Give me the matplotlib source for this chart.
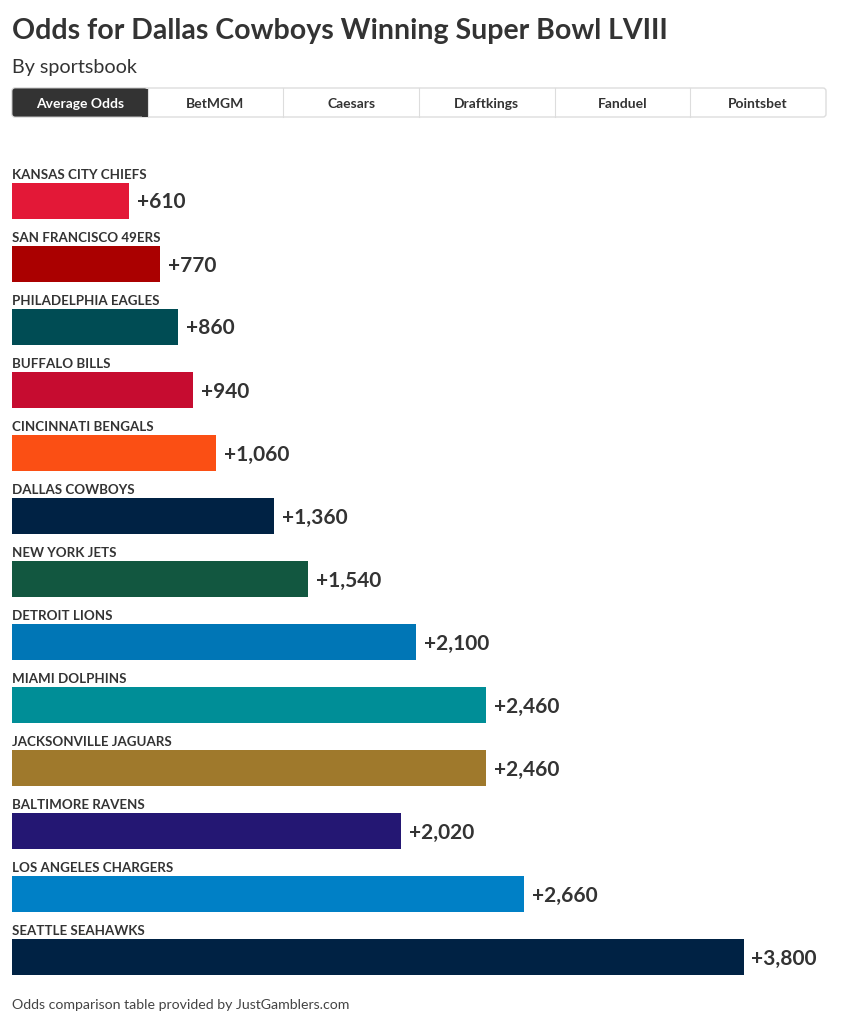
#!/usr/bin/env python3

import matplotlib
matplotlib.use("Agg")
import matplotlib.pyplot as plt
from matplotlib.patches import FancyBboxPatch, Rectangle

teams = [
    "KANSAS CITY CHIEFS", "SAN FRANCISCO 49ERS", "PHILADELPHIA EAGLES", "BUFFALO BILLS",
    "CINCINNATI BENGALS", "DALLAS COWBOYS", "NEW YORK JETS", "DETROIT LIONS",
    "MIAMI DOLPHINS", "JACKSONVILLE JAGUARS", "BALTIMORE RAVENS",
    "LOS ANGELES CHARGERS", "SEATTLE SEAHAWKS",
]
odds = [610, 770, 860, 940, 1060, 1360, 1540, 2100, 2460, 2460, 2020, 2660, 3800]
colors = [
    "#E31837", "#AA0000", "#004C54", "#C60C30", "#FB4F14", "#002244", "#125740",
    "#0076B6", "#008E97", "#9F792C", "#241773", "#0080C6", "#002244",
]
tabs = ["Average Odds", "BetMGM", "Caesars", "Draftkings", "Fanduel", "Pointsbet"]

DARK = "#333333"
W, H = 850, 1024

plt.rcParams["font.family"] = ["Lato", "DejaVu Sans"]

fig = plt.figure(figsize=(W / 100, H / 100), dpi=100, facecolor="white")

# overlay in pixel coordinates for the header, the tabs and the footer
page = fig.add_axes([0, 0, 1, 1])
page.set_xlim(0, W)
page.set_ylim(H, 0)
page.axis("off")

page.text(12, 31, "Odds for Dallas Cowboys Winning Super Bowl LVIII", fontsize=20.5,
          fontweight="bold", color=DARK, va="center", ha="left")
page.text(12, 68, "By sportsbook", fontsize=14.2, color=DARK, va="center", ha="left")
page.text(12, 1005, "Odds comparison table provided by JustGamblers.com", fontsize=10.2,
          color="#444444", va="center", ha="left")

tab_left, tab_right, tab_top, tab_bottom = 12, 826, 88, 117
tab_width = (tab_right - tab_left) / len(tabs)
page.add_patch(FancyBboxPatch((tab_left, tab_top), tab_right - tab_left, tab_bottom - tab_top,
                              boxstyle="round,pad=0,rounding_size=3", facecolor="white",
                              edgecolor="#dddddd", linewidth=1))
page.add_patch(FancyBboxPatch((tab_left, tab_top), tab_width, tab_bottom - tab_top,
                              boxstyle="round,pad=0,rounding_size=3", facecolor=DARK,
                              edgecolor="#dddddd", linewidth=0.6))
page.add_patch(Rectangle((tab_left + tab_width - 6, tab_top + 0.5), 6, tab_bottom - tab_top - 1,
                         facecolor=DARK, edgecolor="none"))
for i, tab in enumerate(tabs):
    if i > 0:
        x = tab_left + i * tab_width
        page.plot([x, x], [tab_top, tab_bottom], color="#dddddd", linewidth=0.8)
    page.text(tab_left + (i + 0.5) * tab_width, 103.5, tab, fontsize=10, fontweight="bold",
              color="white" if i == 0 else DARK, ha="center", va="center")

# bars
row = 63
top = 201 - row / 2
ax = fig.add_axes([12 / W, 1 - (top + row * len(teams)) / H, 731.5 / W, row * len(teams) / H])
ax.set_xlim(0, 3800)
ax.set_ylim(len(teams) - 0.5, -0.5)
ax.axis("off")

ax.barh(range(len(teams)), odds, height=36 / row, color=colors, linewidth=0)
for i, (team, value) in enumerate(zip(teams, odds)):
    ax.annotate(team, (0, i), xytext=(0, 20), textcoords="offset pixels", fontsize=9.6,
                fontweight="bold", color=DARK, ha="left", va="bottom", annotation_clip=False)
    ax.annotate(f"+{value:,}", (value, i), xytext=(8, -1.5), textcoords="offset pixels", fontsize=15,
                fontweight="bold", color=DARK, ha="left", va="center", annotation_clip=False)

fig.savefig("out.png", dpi=100)
